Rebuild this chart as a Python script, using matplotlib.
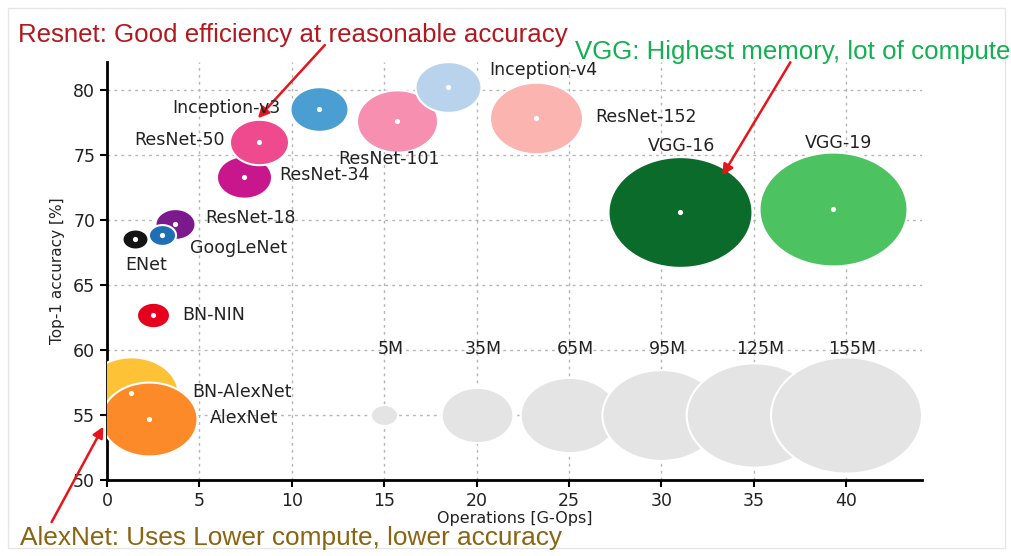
import matplotlib
matplotlib.use("Agg")
import matplotlib.pyplot as plt
import numpy as np
from matplotlib.path import Path
from matplotlib.patches import Rectangle

# ---------------- data ----------------
models = ["ENet", "ResNet-18", "GoogLeNet", "ResNet-34", "ResNet-50", "Inception-v3",
          "ResNet-101", "Inception-v4", "ResNet-152", "VGG-16", "VGG-19",
          "BN-NIN", "BN-AlexNet", "AlexNet"]
ops = [1.5, 3.7, 3.0, 7.4, 8.2, 11.5, 15.7, 18.45, 23.2, 31.0, 39.3, 2.5, 1.3, 2.3]
acc = [68.5, 69.7, 68.8, 73.3, 76.0, 78.5, 77.6, 80.2, 77.8, 70.6, 70.8, 62.7, 56.7, 54.7]
params_m = [4.6, 10.9, 5.0, 20.6, 23.7, 22.9, 44.6, 29.6, 58.8, 141, 149, 7.4, 60, 62.7]
colors = ["#141414", "#7a1a8c", "#1f6fb4", "#c8168c", "#f04a8e", "#4a9ed2",
          "#f78fb0", "#b9d3ec", "#fbb4b0", "#0b6b2b", "#4dc261",
          "#e6001e", "#fdc236", "#fd8a28"]

ref_ops = [15, 20, 25, 30, 35, 40]
ref_acc = [55, 55, 55, 55, 55, 55]
ref_params = [5, 35, 65, 95, 125, 155]
ref_labels = ["5M", "35M", "65M", "95M", "125M", "155M"]

x_ticks = [0, 5, 10, 15, 20, 25, 30, 35, 40]
y_ticks = [50, 55, 60, 65, 70, 75, 80]

# label layout: (x, y, ha)
label_pos = {
    "ENet": (1.0, 66.5, "left"),
    "ResNet-18": (5.3, 70.1, "left"),
    "GoogLeNet": (4.5, 67.8, "left"),
    "ResNet-34": (9.3, 73.4, "left"),
    "ResNet-50": (6.4, 76.1, "right"),
    "Inception-v3": (9.4, 78.6, "right"),
    "ResNet-101": (12.5, 74.7, "left"),
    "Inception-v4": (20.7, 81.5, "left"),
    "ResNet-152": (26.4, 77.9, "left"),
    "VGG-16": (31.1, 75.7, "center"),
    "VGG-19": (39.6, 75.9, "center"),
    "BN-NIN": (4.05, 62.7, "left"),
    "BN-AlexNet": (4.6, 56.75, "left"),
    "AlexNet": (5.55, 54.76, "left"),
}

# ---------------- figure ----------------
fig = plt.figure(figsize=(10.12, 5.56), dpi=100)
ax = fig.add_axes([0.1057, 0.1367, 0.8053, 0.7513])

# elliptical marker (wider than tall, like the reference)
t = np.linspace(0, 2 * np.pi, 100)
ell = Path(np.column_stack([1.3 * np.cos(t), np.sin(t)]), closed=True)
s_scale = 11818 / 155.0

# reference size bubbles (drawn smallest first)
for xo, yo, p in zip(ref_ops, ref_acc, ref_params):
    ax.scatter([xo], [yo], s=p * s_scale, marker=ell, color="#e4e4e4",
               edgecolors="white", linewidths=1.5, zorder=2)
for xo, lab in zip(ref_ops, ref_labels):
    ax.text(xo + 0.35, 60.05, lab, ha="center", va="center", fontsize=12.5,
            color="#222222", zorder=5)

# model bubbles
for m, xo, yo, p, c in zip(models, ops, acc, params_m, colors):
    ax.scatter([xo], [yo], s=p * s_scale, marker=ell, color=c,
               edgecolors="white", linewidths=1.5, zorder=3)
    ax.scatter([xo], [yo], s=14, marker="o", color="white", linewidths=0, zorder=4)
    lx, ly, ha = label_pos[m]
    ax.text(lx, ly, m, ha=ha, va="center", fontsize=12.5, color="#222222", zorder=5)

ax.set_xlim(0, 44.1)
ax.set_ylim(50, 82.1)
ax.set_xticks(x_ticks)
ax.set_yticks(y_ticks)
ax.tick_params(labelsize=12.5, length=5, width=1.5, colors="black",
               labelcolor="#222222")
for sp in ["top", "right"]:
    ax.spines[sp].set_visible(False)
for sp in ["left", "bottom"]:
    ax.spines[sp].set_linewidth(2)
ax.grid(True, color="#b5b5b5", linestyle=(0, (2, 3)), linewidth=1)
ax.set_axisbelow(True)
ax.set_xlabel("Operations [G-Ops]", fontsize=11.5, color="#222222", labelpad=1)
ax.set_ylabel("Top-1 accuracy [%]", fontsize=11, color="#222222", labelpad=6)

# annotations
afont = ["Liberation Sans", "DejaVu Sans"]
fig.text(0.018, 0.937, "Resnet: Good efficiency at reasonable accuracy",
         fontsize=18.6, color="#b3181e", family=afont, va="center", ha="left")
fig.text(0.568, 0.906, "VGG: Highest memory, lot of compute",
         fontsize=18.6, color="#12b050", family=afont, va="center", ha="left")
fig.text(0.020, 0.032, "AlexNet: Uses Lower compute, lower accuracy",
         fontsize=18.9, color="#8a6410", family=afont, va="center", ha="left")

arrow = dict(arrowstyle="-|>", color="#e8141c", lw=1.8, mutation_scale=16,
             shrinkA=0, shrinkB=0)
ax.annotate("", xy=(8.17, 77.8), xycoords="data",
            xytext=(0.321, 0.919), textcoords="figure fraction",
            arrowprops=arrow, annotation_clip=False)
ax.annotate("", xy=(33.3, 73.4), xycoords="data",
            xytext=(0.781, 0.888), textcoords="figure fraction",
            arrowprops=arrow, annotation_clip=False)
ax.annotate("", xy=(-0.2, 54.1), xycoords="data",
            xytext=(0.051, 0.061), textcoords="figure fraction",
            arrowprops=arrow, annotation_clip=False)

# faint frame around image
fig.patches.append(Rectangle((0.008, 0.014), 0.985, 0.972, transform=fig.transFigure,
                             fill=False, edgecolor="#e6e6e6", linewidth=1))

fig.savefig("out.png", dpi=100)
